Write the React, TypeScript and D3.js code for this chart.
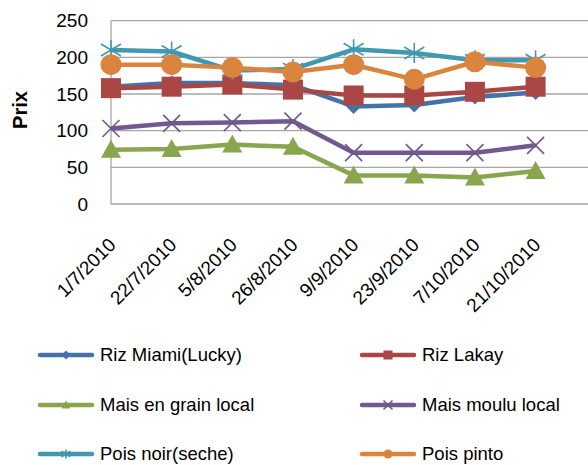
import React from "react";
import * as d3 from "d3";

const dates = [
  "1/7/2010",
  "22/7/2010",
  "5/8/2010",
  "26/8/2010",
  "9/9/2010",
  "23/9/2010",
  "7/10/2010",
  "21/10/2010",
];

const rizMiami = [160, 165, 165, 162, 133, 135, 146, 152];
const rizLakay = [158, 160, 163, 156, 148, 148, 153, 160];
const maisGrain = [74, 75, 81, 78, 39, 39, 36, 45];
const maisMoulu = [103, 110, 111, 113, 70, 70, 70, 80];
const poisNoir = [210, 208, 182, 184, 211, 206, 196, 196];
const poisPinto = [190, 190, 186, 180, 190, 170, 194, 186];

const yTicks = [0, 50, 100, 150, 200, 250];

const series = [
  { name: "Riz Miami(Lucky)", values: rizMiami, color: "#4572A7", marker: "diamond" },
  { name: "Riz Lakay", values: rizLakay, color: "#AA4643", marker: "square" },
  { name: "Mais en grain local", values: maisGrain, color: "#89A54E", marker: "triangle" },
  { name: "Mais moulu local", values: maisMoulu, color: "#71588F", marker: "x" },
  { name: "Pois noir(seche)", values: poisNoir, color: "#4198AF", marker: "star" },
  { name: "Pois pinto", values: poisPinto, color: "#DB843D", marker: "circle" },
];

const W = 588;
const H = 465;
const font = "'Liberation Sans', Arial, sans-serif";

function Marker({ type, x, y, s, color }) {
  const h = s / 2;
  if (type === "diamond") {
    return <path d={`M${x},${y - h}L${x + h},${y}L${x},${y + h}L${x - h},${y}Z`} fill={color} />;
  }
  if (type === "square") {
    return <rect x={x - h} y={y - h} width={s} height={s} fill={color} />;
  }
  if (type === "triangle") {
    return <path d={`M${x},${y - h}L${x + h},${y + h * 0.8}L${x - h},${y + h * 0.8}Z`} fill={color} />;
  }
  if (type === "circle") {
    return <circle cx={x} cy={y} r={h} fill={color} />;
  }
  if (type === "x") {
    return (
      <path
        d={`M${x - h},${y - h}L${x + h},${y + h}M${x - h},${y + h}L${x + h},${y - h}`}
        stroke={color}
        strokeWidth={1.6}
      />
    );
  }
  // star: x plus vertical stroke
  return (
    <path
      d={`M${x - h},${y - h * 0.6}L${x + h},${y + h * 0.6}M${x - h},${y + h * 0.6}L${x + h},${y - h * 0.6}M${x},${y - h}L${x},${y + h}`}
      stroke={color}
      strokeWidth={1.6}
    />
  );
}

const markerSize = { diamond: 15, square: 20, triangle: 20, circle: 21, x: 17, star: 20 };

export default function App() {
  const margin = { top: 20.7, left: 111, right: 535.6, bottom: 204 };

  const x = d3.scalePoint().domain(dates).range([margin.left, margin.right]);
  const y = d3.scaleLinear().domain([0, 250]).range([margin.bottom, margin.top]);

  const line = d3
    .line()
    .x((d, i) => x(dates[i]))
    .y((d) => y(d));

  const legendRows = [355, 405, 454];
  const legendCols = [40, 362];

  return (
    <svg
      width={W}
      height={H}
      style={{ position: "absolute", left: 0, top: 0, background: "#fff" }}
      fontFamily={font}
    >
      {/* gridlines */}
      {yTicks.map((t) => (
        <line key={t} x1={margin.left} x2={W} y1={y(t)} y2={y(t)} stroke="#A6A6A6" strokeWidth={1.3} />
      ))}
      <line x1={margin.left} x2={margin.left} y1={margin.top} y2={margin.bottom} stroke="#A6A6A6" strokeWidth={1.3} />

      {/* y tick labels */}
      {yTicks.map((t) => (
        <text key={t} x={88} y={y(t)} dy="0.35em" textAnchor="end" fontSize={19} fill="#000">
          {t}
        </text>
      ))}

      {/* y axis title */}
      <text
        transform={`translate(27, 110) rotate(-90)`}
        textAnchor="middle"
        fontSize={20}
        fontWeight="bold"
        fill="#000"
      >
        Prix
      </text>

      {/* x tick labels */}
      {dates.map((d) => (
        <text
          key={d}
          transform={`translate(${x(d) + 6}, 246) rotate(-45)`}
          textAnchor="end"
          fontSize={19}
          fill="#000"
        >
          {d}
        </text>
      ))}

      {/* series */}
      {series.map((s) => (
        <g key={s.name}>
          <path d={line(s.values)} fill="none" stroke={s.color} strokeWidth={4.5} strokeLinejoin="round" />
          {s.values.map((v, i) => (
            <Marker key={i} type={s.marker} x={x(dates[i])} y={y(v)} s={markerSize[s.marker]} color={s.color} />
          ))}
        </g>
      ))}

      {/* legend */}
      {series.map((s, i) => {
        const lx = legendCols[i % 2];
        const ly = legendRows[Math.floor(i / 2)];
        return (
          <g key={s.name}>
            <line x1={lx} x2={lx + 52} y1={ly} y2={ly} stroke={s.color} strokeWidth={4.5} strokeLinecap="round" />
            <Marker type={s.marker} x={lx + 26} y={ly} s={9} color={s.color} />
            <text x={lx + 60} y={ly} dy="0.35em" fontSize={18.5} fill="#000">
              {s.name}
            </text>
          </g>
        );
      })}
    </svg>
  );
}
